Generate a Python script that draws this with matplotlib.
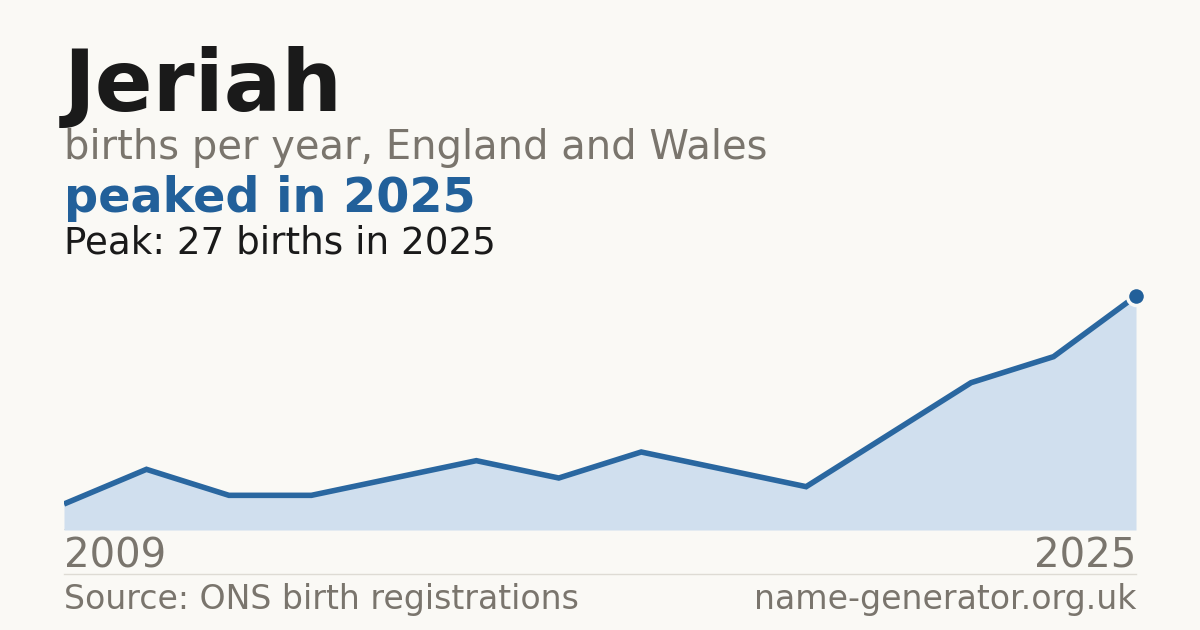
import matplotlib
matplotlib.use("Agg")
import matplotlib.pyplot as plt
import numpy as np

# births per year (only years with published counts)
years = [2009, 2010, 2011, 2012, 2013, 2014, 2015, 2016, 2017, 2018, 2019, 2021, 2024, 2025]
births = [3, 7, 4, 4, 6, 8, 6, 9, 7, 5, 11, 17, 20, 27]
first_label = "2009"
last_label = "2025"

bg = "#faf9f5"
blue = "#22609a"
line_blue = "#2a67a0"
fill_blue = "#d0dfee"
grey = "#7a756d"
dark = "#1a1a1a"

plt.rcParams['font.family'] = ['DejaVu Sans']

fig = plt.figure(figsize=(12, 6.3), dpi=100, facecolor=bg)

W, H = 1200.0, 630.0
left, right = 64 / W, 1136 / W
bottom, top = 1 - 530 / H, 1 - 296 / H
ax = fig.add_axes([left, bottom, right - left, top - bottom])
ax.set_facecolor(bg)

x = np.arange(len(births))
ax.fill_between(x, births, 0, color=fill_blue, lw=0)
ax.plot(x, births, color=line_blue, lw=4, solid_joinstyle='miter', solid_capstyle='butt')
ax.plot(x[-1], births[-1], marker='o', ms=13, color=blue, mec=bg, mew=2.5, clip_on=False, zorder=5)
ax.set_xlim(0, len(births) - 1)
ax.set_ylim(0, max(births))
ax.axhline(0, color="#d9d6cf", lw=1.2, zorder=0)
for s in ax.spines.values():
    s.set_visible(False)
ax.set_xticks([])
ax.set_yticks([])

# headline text
fig.text(left, 1 - 88 / H, "Jeriah", fontsize=61.5, fontweight='bold', color=dark, va='center', ha='left')
fig.text(left, 1 - 148 / H, "births per year, England and Wales", fontsize=28.8, color=grey, va='center', ha='left')
fig.text(left, 1 - 199 / H, "peaked in " + last_label, fontsize=34.4, fontweight='bold', color=blue, va='center', ha='left')
fig.text(left, 1 - 243 / H, "Peak: %d births in %s" % (max(births), last_label), fontsize=26.8, color=dark, va='center', ha='left')

# axis end labels
fig.text(left, 1 - 557 / H, first_label, fontsize=29, color=grey, va='center', ha='left')
fig.text(right, 1 - 557 / H, last_label, fontsize=29, color=grey, va='center', ha='right')

# divider + footer
fig.add_artist(plt.Line2D([left, right], [1 - 574 / H, 1 - 574 / H], color="#dedbd4", lw=1))
fig.text(left, 1 - 600 / H, "Source: ONS birth registrations", fontsize=23.9, color=grey, va='center', ha='left')
fig.text(right, 1 - 600 / H, "name-generator.org.uk", fontsize=23.9, color=grey, va='center', ha='right')

fig.savefig("out.png", dpi=100, facecolor=bg)
